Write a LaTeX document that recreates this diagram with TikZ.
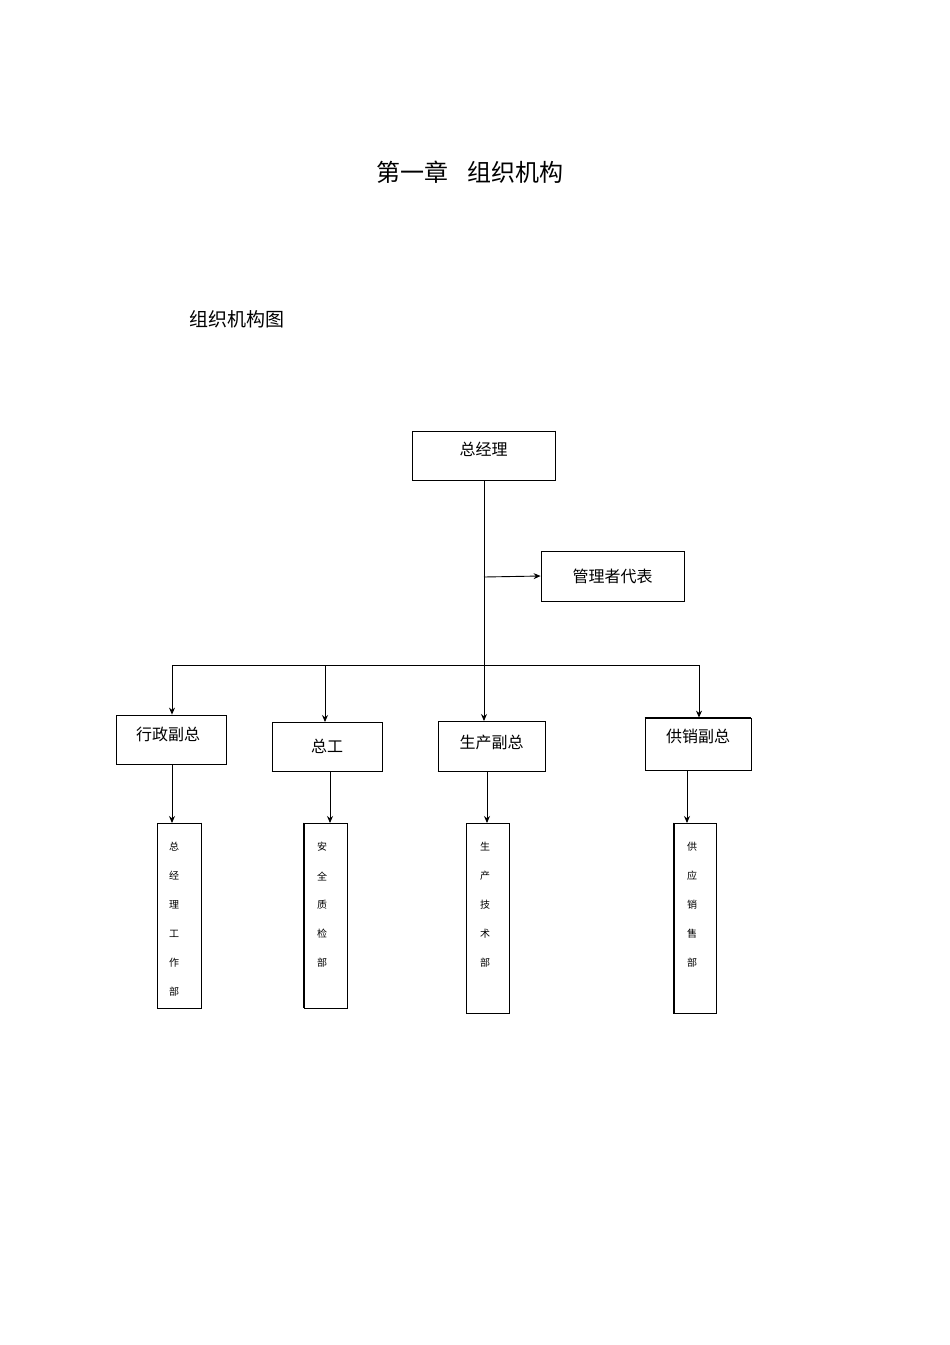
\documentclass[tikz,border=0pt]{standalone}
\usepackage{fontspec}
\setmainfont{Noto Sans CJK SC}
\usetikzlibrary{arrows.meta}
\begin{document}
\begin{tikzpicture}[x=1pt,y=-1pt,
  box/.style={draw,line width=0.8pt,inner sep=0pt,font=\fontsize{16}{18}\selectfont},
  vbox/.style={draw,line width=0.8pt,inner sep=0pt},
  arr/.style={line width=0.9pt,-{Stealth[length=7pt,width=6pt]}},
  ln/.style={line width=0.9pt}]
\useasboundingbox (0,0) rectangle (950,1345);
\node[font=\fontsize{24}{28}\selectfont] (title) at (470,172) {第一章\hspace{0.8em}组织机构};
\node[font=\fontsize{19}{22}\selectfont,anchor=west] (sub) at (186,319) {组织机构图};
% boxes
\node[box,minimum width=143pt,minimum height=49pt] (gm) at (483.5,455.5) {};
\node[font=\fontsize{16}{18}\selectfont] at (483.5,449) {总经理};
\draw[line width=1.6pt] (gm.north east) -- (gm.south east) -- (gm.south west);
\node[box,minimum width=143pt,minimum height=50pt] (rep) at (612.5,576) {管理者代表};
\node[box,minimum width=110pt,minimum height=49pt] (a) at (171,739.5) {};
\node[font=\fontsize{16}{18}\selectfont] at (168,734) {行政副总};
\node[box,minimum width=110pt,minimum height=49pt] (b) at (327,746.5) {总工};
\draw[line width=1.6pt] (b.south west) -- (b.south east);
\node[box,minimum width=107pt,minimum height=50pt] (c) at (491.5,746) {};
\node[font=\fontsize{16}{18}\selectfont] at (491.5,742) {生产副总};
\draw[line width=1.6pt] (c.south west) -- (c.south east);
\node[box,minimum width=106pt,minimum height=52pt] (d) at (698,744) {};
\node[font=\fontsize{16}{18}\selectfont] at (698,736) {供销副总};
\draw[line width=1.6pt] (d.north west) -- (d.north east);
% vertical boxes
\node[vbox,minimum width=44pt,minimum height=185pt] (a1) at (179,915.5) {};
\draw[line width=1.6pt] (a1.north east) -- (a1.south east);
\node[vbox,minimum width=43pt,minimum height=185pt] (b1) at (325.5,915.5) {};
\draw[line width=1.6pt] (b1.north west) -- (b1.south west);
\node[vbox,minimum width=43pt,minimum height=190pt] (c1) at (487.5,918) {};
\node[vbox,minimum width=42pt,minimum height=190pt] (d1) at (695,918) {};
\draw[line width=1.6pt] (d1.north west) -- (d1.south west) -- (d1.south east);
\foreach \n/\x/\t in {a1/174/{总,经,理,工,作,部},b1/322/{安,全,质,检,部},c1/485/{生,产,技,术,部},d1/692/{供,应,销,售,部}}{
  \foreach \ch [count=\i] in \t {
    \node[font=\fontsize{10}{12}\selectfont] at (\x,{818+29*\i}) {\ch};
  }
}
% connectors
\coordinate (t1) at (484,480);
\coordinate (br) at (484,577);
\draw[arr] (t1) -- (484,721);
\draw[arr] (br) -- (rep.west);
\coordinate (hl) at (172,665);
\coordinate (hr) at (699,665);
\draw[ln] (hl) -- (hr);
\draw[arr] (hl) -- (a.north -| hl);
\draw[arr] (325,665) -- (325,722);
\draw[arr] (hr) -- (hr |- d.north);
\draw[arr] (a.south -| 172,0) -- (172,823);
\draw[arr] (330,771) -- (330,823);
\draw[arr] (487,771) -- (487,823);
\draw[arr] (687,770) -- (687,823);
\end{tikzpicture}
\end{document}
